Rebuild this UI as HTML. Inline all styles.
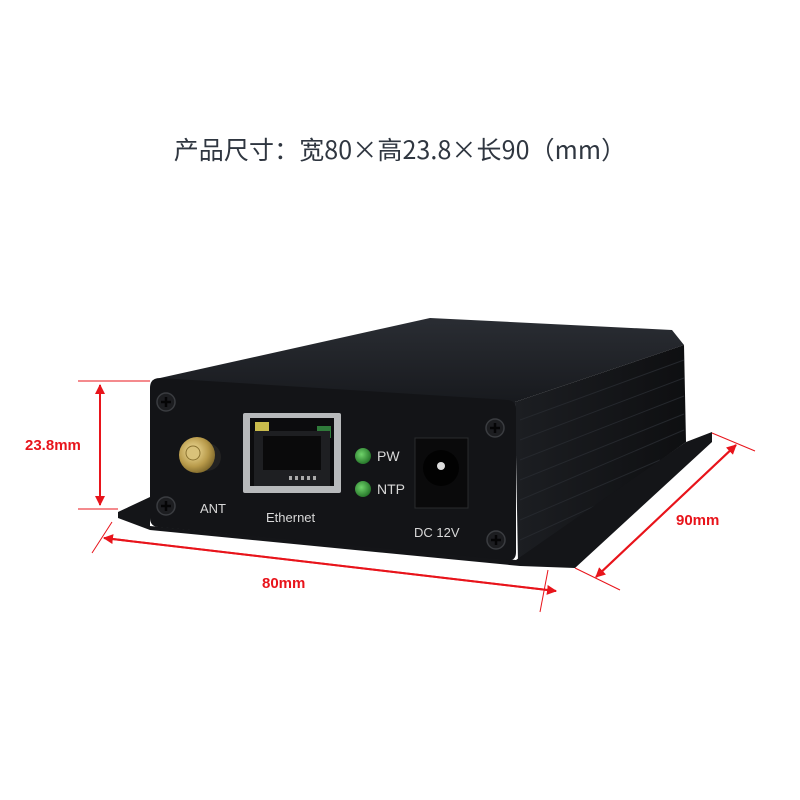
<!DOCTYPE html>
<html><head><meta charset="utf-8"><style>
html,body{margin:0;padding:0;background:#fff;}
#c{position:relative;width:800px;height:800px;overflow:hidden;background:#fff;}
.t{position:absolute;left:0;top:131px;width:800px;text-align:center;font-family:"Noto Sans CJK SC",sans-serif;font-size:25px;letter-spacing:0.1px;color:#2f3640;}
</style></head><body><div id="c">
<div class="t">产品尺寸：宽80×高23.8×长90（mm）</div>
<svg width="800" height="800" style="position:absolute;left:0;top:0">
<defs>
<linearGradient id="top" x1="0" y1="0" x2="0" y2="1"><stop offset="0" stop-color="#2a2d33"/><stop offset="1" stop-color="#16181c"/></linearGradient>
<linearGradient id="side" x1="0" y1="0" x2="1" y2="0"><stop offset="0" stop-color="#1c1e22"/><stop offset="1" stop-color="#0e0f11"/></linearGradient>
<radialGradient id="gold" cx="0.4" cy="0.4" r="0.7"><stop offset="0" stop-color="#f4e2a0"/><stop offset="0.6" stop-color="#b89a4a"/><stop offset="1" stop-color="#6e5a22"/></radialGradient>
<radialGradient id="led" cx="0.4" cy="0.4" r="0.7"><stop offset="0" stop-color="#6fd36a"/><stop offset="1" stop-color="#1d6a22"/></radialGradient>
<marker id="ar" markerWidth="10" markerHeight="10" refX="9" refY="5" orient="auto" markerUnits="userSpaceOnUse"><path d="M0,0 L10,5 L0,10 z" fill="#e8141b"/></marker>
</defs>
<polygon points="160,378 430,318 672,330 684,345 515,402 515,410 152,382" fill="url(#top)"/>
<polygon points="515,402 684,345 686,442 518,562" fill="url(#side)"/>
<g stroke="#25282d" stroke-width="1">
<line x1="520" y1="420" x2="684" y2="360"/><line x1="520" y1="440" x2="684" y2="378"/><line x1="520" y1="460" x2="684" y2="396"/><line x1="520" y1="480" x2="684" y2="414"/><line x1="520" y1="500" x2="684" y2="430"/><line x1="520" y1="520" x2="660" y2="460"/><line x1="520" y1="540" x2="630" y2="490"/>
</g>
<polygon points="118,512 150,497 150,526 516,560 686,442 712,432 712,442 575,568 520,566 150,530 118,518" fill="#141518"/>
<path d="M160,378 L508,400 Q516,401 516,410 L516,552 Q516,561 508,560 L158,527 Q150,526 150,518 L150,388 Q150,378 160,378 z" fill="#131417"/>
<g fill="#1c1d20" stroke="#3a3c40" stroke-width="1.5">
<circle cx="166" cy="402" r="9"/><circle cx="166" cy="506" r="9"/><circle cx="495" cy="428" r="9"/><circle cx="496" cy="540" r="9"/></g>
<g stroke="#050506" stroke-width="2.5">
<path d="M161,402h10M166,397v10M161,506h10M166,501v10M490,428h10M495,423v10M491,540h10M496,535v10"/></g>
<circle cx="207" cy="457" r="14" fill="#222"/>
<circle cx="197" cy="455" r="18" fill="url(#gold)"/>
<circle cx="193" cy="453" r="7" fill="#d9c27a" stroke="#8a7230"/>
<rect x="243" y="413" width="98" height="80" fill="#b7b9bb" rx="2"/>
<rect x="250" y="418" width="84" height="68" fill="#0c0c0e"/>
<rect x="255" y="422" width="14" height="10" fill="#c9bb4c"/>
<rect x="317" y="426" width="14" height="12" fill="#2f7a3a"/>
<rect x="254" y="431" width="76" height="55" fill="#1e1f22"/>
<rect x="263" y="436" width="58" height="34" fill="#0a0a0b"/>
<g fill="#aaa"><rect x="289" y="476" width="3" height="4"/><rect x="295" y="476" width="3" height="4"/><rect x="301" y="476" width="3" height="4"/><rect x="307" y="476" width="3" height="4"/><rect x="313" y="476" width="3" height="4"/></g>
<circle cx="363" cy="456" r="8" fill="url(#led)"/>
<circle cx="363" cy="489" r="8" fill="url(#led)"/>
<rect x="415" y="438" width="53" height="70" fill="#0a0a0b" stroke="#2a2b2e"/>
<circle cx="441" cy="468" r="18" fill="#020202"/>
<circle cx="441" cy="466" r="4" fill="#ddd"/>
<g font-family="Liberation Sans, sans-serif" fill="#d8d8d8" font-size="13">
<text x="200" y="513">ANT</text>
<text x="266" y="522">Ethernet</text>
<text x="377" y="461" font-size="14">PW</text>
<text x="377" y="494" font-size="14">NTP</text>
<text x="414" y="537">DC 12V</text>
</g>
<g stroke="#e8141b" stroke-width="2" fill="none">
<line x1="78" y1="381" x2="150" y2="381" stroke-width="1"/>
<line x1="78" y1="509" x2="118" y2="509" stroke-width="1"/>
<line x1="100" y1="385" x2="100" y2="505" marker-end="url(#ar)"/>
<line x1="100" y1="505" x2="100" y2="385" marker-end="url(#ar)"/>
<line x1="112" y1="522" x2="92" y2="553" stroke-width="1"/>
<line x1="548" y1="570" x2="540" y2="612" stroke-width="1"/>
<line x1="104" y1="538" x2="556" y2="591" marker-end="url(#ar)"/>
<line x1="556" y1="591" x2="104" y2="538" marker-end="url(#ar)"/>
<line x1="575" y1="568" x2="620" y2="590" stroke-width="1"/>
<line x1="712" y1="433" x2="755" y2="451" stroke-width="1"/>
<line x1="596" y1="577" x2="736" y2="445" marker-end="url(#ar)"/>
<line x1="736" y1="445" x2="596" y2="577" marker-end="url(#ar)"/>
</g>
<g font-family="Liberation Sans, sans-serif" font-weight="bold" fill="#e8141b" font-size="15">
<text x="25" y="450">23.8mm</text>
<text x="262" y="588">80mm</text>
<text x="676" y="525">90mm</text>
</g>
</svg>
</div></body></html>
